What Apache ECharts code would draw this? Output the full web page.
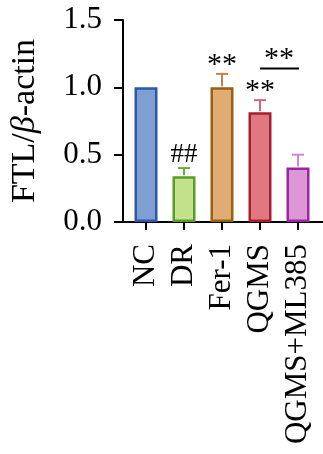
<!DOCTYPE html>
<html><head><meta charset="utf-8">
<script src="https://cdn.jsdelivr.net/npm/echarts@6/dist/echarts.min.js"></script>
<style>html,body{margin:0;padding:0;background:#fff}#c{width:323px;height:454px}</style>
</head><body><div id="c"></div>
<script>
const categories = ['NC', 'DR', 'Fer-1', 'QGMS', 'QGMS+ML385'];
const values = [1.0, 0.34, 1.0, 0.815, 0.405];
const errors = [0, 0.06, 0.10, 0.09, 0.095];
const marks = ['', '##', '**', '**', ''];
const fillColors = ['#7f9fd3', '#c3e08b', '#dfad73', '#e0787f', '#de97d6'];
const borderColors = ['#2c58a5', '#5a9b2b', '#98600f', '#a51f30', '#9a27a0'];
const errColors = ['#2c58a5', '#6aa83c', '#b8864a', '#d06878', '#cf86d0'];
const comparisons = [[3, 4, 1.14, '**']];
const yTicks = [0, 0.5, 1.0, 1.5];

const FONT = '"Liberation Serif", "Times New Roman", serif';
const chart = echarts.init(document.getElementById('c'), null, {renderer: 'canvas'});

const option = {
  animation: false,
  grid: [
    {left: 121, top: 20, width: 202, height: 202},
    {left: 127, top: 20, width: 190, height: 202}
  ],
  xAxis: [
    {gridIndex: 0, type: 'value', min: 0, max: 1, axisLine: {show: true, lineStyle: {color: '#000', width: 2}},
     axisTick: {show: false}, axisLabel: {show: false}, splitLine: {show: false}},
    {gridIndex: 1, type: 'category', data: categories,
     axisLine: {show: false},
     axisTick: {show: true, alignWithLabel: true, length: 8, lineStyle: {color: '#000', width: 2}},
     axisLabel: {rotate: 90, fontFamily: FONT, fontSize: 31, color: '#000', margin: 22, interval: 0},
     splitLine: {show: false}}
  ],
  yAxis: [
    {gridIndex: 0, type: 'value', min: yTicks[0], max: yTicks[yTicks.length - 1], interval: 0.5,
     axisLine: {show: true, lineStyle: {color: '#000', width: 2}},
     axisTick: {show: true, length: 9, lineStyle: {color: '#000', width: 2}},
     axisLabel: {fontFamily: FONT, fontSize: 31, color: '#000', margin: 21, formatter: v => v.toFixed(1)},
     splitLine: {show: false},
     name: 'FTL/{i|β}-actin', nameLocation: 'middle', nameGap: 81, nameRotate: 90,
     nameTextStyle: {fontFamily: FONT, fontSize: 34, color: '#000',
       rich: {i: {fontFamily: FONT, fontSize: 34, fontStyle: 'italic', color: '#000'}}}},
    {gridIndex: 1, type: 'value', min: yTicks[0], max: yTicks[yTicks.length - 1], interval: 0.5, show: false}
  ],
  series: [
    {type: 'bar', xAxisIndex: 1, yAxisIndex: 1, barWidth: 23,
     data: values.map((v, i) => ({value: v, itemStyle: {color: fillColors[i], borderColor: borderColors[i], borderWidth: 2.5}}))},
    {type: 'custom', xAxisIndex: 1, yAxisIndex: 1, z: 5,
     data: values.map((v, i) => [i, v, errors[i]]),
     renderItem: function (params, api) {
       const i = api.value(0), v = api.value(1), e = api.value(2);
       const base = api.coord([i, v]);
       const top = api.coord([i, v + e]);
       const children = [];
       const col = errColors[i];
       if (e > 0) {
         children.push({type: 'line', shape: {x1: base[0], y1: base[1] - 1, x2: top[0], y2: top[1]}, style: {stroke: col, lineWidth: 2}});
         children.push({type: 'line', shape: {x1: top[0] - 6, y1: top[1], x2: top[0] + 6, y2: top[1]}, style: {stroke: col, lineWidth: 2}});
       }
       if (marks[i]) {
         const star = marks[i].indexOf('*') >= 0;
         children.push({type: 'text', x: top[0], y: top[1] - (star ? 9 : 13),
           style: {text: marks[i], fontFamily: FONT, fontSize: star ? 30 : 27, fill: '#000', align: 'center', verticalAlign: 'middle'}});
       }
       return {type: 'group', children: children};
     }},
    {type: 'custom', xAxisIndex: 1, yAxisIndex: 1, z: 5,
     data: comparisons,
     renderItem: function (params, api) {
       const a = api.coord([api.value(0), api.value(2)]);
       const b = api.coord([api.value(1), api.value(2)]);
       const txt = comparisons[params.dataIndex][3];
       return {type: 'group', children: [
         {type: 'line', shape: {x1: a[0], y1: a[1], x2: b[0] + 1, y2: b[1]}, style: {stroke: '#000', lineWidth: 2}},
         {type: 'text', x: (a[0] + b[0]) / 2, y: a[1] - 9,
          style: {text: txt, fontFamily: FONT, fontSize: 30, fill: '#000', align: 'center', verticalAlign: 'middle'}}
       ]};
     }}
  ]
};
chart.setOption(option);
</script></body></html>
